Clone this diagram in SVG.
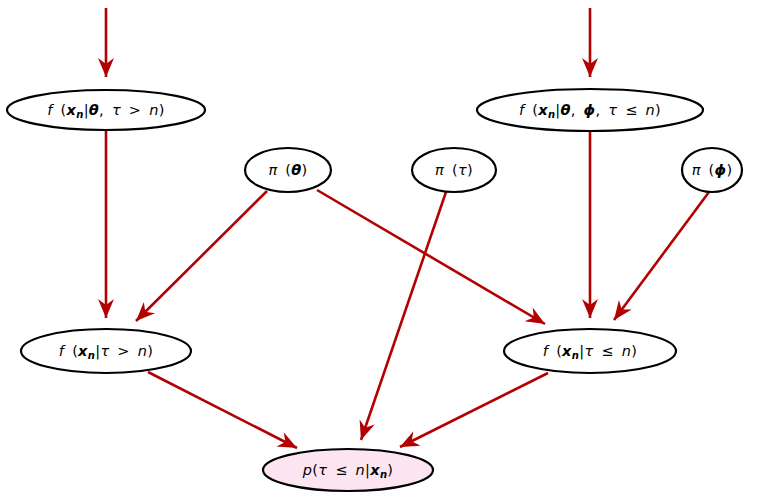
<svg xmlns="http://www.w3.org/2000/svg" width="770" height="493" viewBox="0 0 770 493">
<defs>
<marker id="ah" markerUnits="userSpaceOnUse" markerWidth="24" markerHeight="20" viewBox="-20 -10 24 20" refX="0" refY="0" orient="auto">
<path d="M0,0 L-19,-8 L-13,0 L-19,8 Z" fill="#b30000"/>
</marker>
</defs>
<style>
.node{fill:#fff;stroke:#000;stroke-width:2.2}
.pink{fill:#fce4f0}
.edge{stroke:#b30000;stroke-width:2.6;fill:none;marker-end:url(#ah)}
text{font-family:"DejaVu Sans","Liberation Sans",sans-serif;font-size:14.5px;text-anchor:middle;fill:#000;word-spacing:3px;letter-spacing:0.3px}
.i{font-style:italic}
.b{font-style:italic;font-weight:bold}
.s{font-size:10px}
</style>
<g id="connectors">
<path class="edge" d="M106,8 L106,77"/>
<path class="edge" d="M590,8 L590,77"/>
<path class="edge" d="M106,131 L106,318"/>
<path class="edge" d="M590,132 L590,318"/>
<path class="edge" d="M267,191 L136,321"/>
<path class="edge" d="M317,190 L545,324"/>
<path class="edge" d="M446,192 L361,440"/>
<path class="edge" d="M709,192 L614,320"/>
<path class="edge" d="M148,372 L297,448"/>
<path class="edge" d="M548,373 L400,447"/>
</g>
<g id="nodeA">
<ellipse class="node" cx="106" cy="110" rx="99" ry="20"/>
<text x="106" y="115"><tspan class="i">f</tspan> (<tspan class="b">x</tspan><tspan class="b s" dy="3">n</tspan><tspan dy="-3">|</tspan><tspan class="b">θ</tspan>, <tspan class="i">τ</tspan> &gt; <tspan class="i">n</tspan>)</text>
</g>
<g id="nodeB">
<ellipse class="node" cx="590" cy="110" rx="113" ry="21"/>
<text x="590" y="115"><tspan class="i">f</tspan> (<tspan class="b">x</tspan><tspan class="b s" dy="3">n</tspan><tspan dy="-3">|</tspan><tspan class="b">θ</tspan>, <tspan class="b">ϕ</tspan>, <tspan class="i">τ</tspan> ≤ <tspan class="i">n</tspan>)</text>
</g>
<g id="piTheta">
<ellipse class="node" cx="288" cy="170" rx="43" ry="22"/>
<text x="288" y="175"><tspan class="i">π</tspan> (<tspan class="b">θ</tspan>)</text>
</g>
<g id="piTau">
<ellipse class="node" cx="454" cy="170" rx="42" ry="22"/>
<text x="454" y="175"><tspan class="i">π</tspan> (<tspan class="i">τ</tspan>)</text>
</g>
<g id="piPhi">
<ellipse class="node" cx="712" cy="170" rx="30" ry="22"/>
<text x="712" y="175"><tspan class="i">π</tspan> (<tspan class="b">ϕ</tspan>)</text>
</g>
<g id="nodeC">
<ellipse class="node" cx="106" cy="351" rx="85" ry="22"/>
<text x="106" y="356"><tspan class="i">f</tspan> (<tspan class="b">x</tspan><tspan class="b s" dy="3">n</tspan><tspan dy="-3">|</tspan><tspan class="i">τ</tspan> &gt; <tspan class="i">n</tspan>)</text>
</g>
<g id="nodeD">
<ellipse class="node" cx="590" cy="351" rx="86" ry="22"/>
<text x="590" y="356"><tspan class="i">f</tspan> (<tspan class="b">x</tspan><tspan class="b s" dy="3">n</tspan><tspan dy="-3">|</tspan><tspan class="i">τ</tspan> ≤ <tspan class="i">n</tspan>)</text>
</g>
<g id="nodeE">
<ellipse class="node pink" cx="348" cy="470" rx="85" ry="21"/>
<text x="348" y="475"><tspan class="i">p</tspan>(<tspan class="i">τ</tspan> ≤ <tspan class="i">n</tspan>|<tspan class="b">x</tspan><tspan class="b s" dy="3">n</tspan><tspan dy="-3">)</tspan></text>
</g>
</svg>
